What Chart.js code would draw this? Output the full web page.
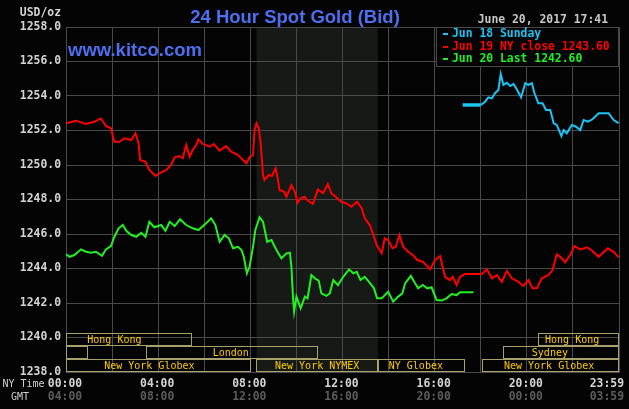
<!DOCTYPE html>
<html><head><meta charset="utf-8">
<script src="https://cdn.jsdelivr.net/npm/chart.js@4.4.1/dist/chart.umd.min.js"></script>
<style>html,body{margin:0;padding:0;background:#040404;overflow:hidden}canvas{display:block}</style>
</head><body>
<canvas id="c" width="629" height="409"></canvas>
<script>
// ---- data (time in minutes after 00:00 New York time) ----
const redTimes=[0,26,52,74,91,104,117,126,139,152,170,181,189,193,207,217,233,243,261,274,283,295,304,313,322,330,339,345,356,374,385,400,417,430,448,461,470,478,487,491,496,502,507,513,517,528,536,546,552,556,568,574,587,596,603,611,621,630,643,656,669,682,691,700,717,730,743,758,770,778,791,802,809,822,830,839,850,859,868,878,891,903,915,930,948,961,974,987,1000,1007,1017,1026,1039,1083,1096,1109,1122,1135,1148,1161,1178,1191,1204,1215,1226,1239,1256,1267,1278,1287,1300,1313,1324,1339,1357,1370,1387,1411,1426,1439];
const redValues=[1252.42,1252.57,1252.38,1252.51,1252.70,1252.26,1252.13,1251.35,1251.35,1251.55,1251.45,1251.84,1251.26,1250.29,1250.19,1249.71,1249.36,1249.52,1249.71,1250.00,1250.45,1250.52,1250.39,1251.16,1250.48,1250.87,1251.16,1251.49,1251.22,1251.06,1251.22,1250.83,1251.10,1250.77,1250.58,1250.29,1250.10,1250.45,1250.58,1252.03,1252.42,1252.13,1251.26,1249.42,1249.13,1249.42,1249.36,1249.81,1249.13,1248.55,1248.45,1248.16,1248.84,1248.45,1247.81,1248.07,1248.16,1247.93,1247.74,1248.59,1248.36,1248.90,1248.36,1248.20,1247.87,1247.78,1247.58,1247.87,1247.49,1246.91,1246.52,1245.84,1245.36,1244.88,1245.75,1245.65,1245.17,1245.26,1245.94,1245.26,1244.97,1244.78,1244.49,1244.39,1243.95,1244.49,1244.72,1243.52,1243.33,1243.52,1243.04,1243.52,1243.68,1243.68,1243.95,1243.43,1243.62,1243.23,1243.86,1243.43,1243.23,1242.99,1243.33,1242.85,1242.85,1243.43,1243.62,1243.91,1244.82,1244.68,1244.36,1244.78,1245.30,1245.11,1245.23,1245.03,1244.68,1245.17,1244.97,1244.65];

const greenTimes=[0,9,22,39,52,65,78,94,104,117,126,137,148,157,170,183,196,207,217,230,248,259,270,283,297,313,330,345,353,365,378,389,400,413,424,435,448,457,463,471,478,487,493,504,513,524,535,548,561,574,583,587,591,594,600,611,622,629,639,648,658,665,678,687,696,708,722,737,748,757,767,778,789,802,810,822,839,852,865,876,883,898,909,917,929,941,952,965,978,991,1004,1017,1026,1061];
const greenValues=[1244.84,1244.68,1244.78,1245.11,1244.97,1244.92,1244.97,1244.74,1245.11,1245.30,1245.84,1246.33,1246.52,1246.19,1245.94,1245.84,1246.07,1245.84,1246.71,1246.39,1246.52,1246.19,1246.71,1246.46,1246.85,1246.52,1246.33,1246.23,1246.39,1246.62,1246.91,1246.52,1245.55,1245.94,1245.75,1245.17,1245.26,1245.07,1244.68,1243.72,1244.10,1245.26,1246.23,1246.97,1246.71,1245.55,1245.65,1245.07,1244.59,1244.88,1244.92,1244.10,1242.37,1241.50,1242.37,1241.69,1242.37,1242.27,1243.62,1243.43,1243.30,1242.56,1242.41,1242.56,1243.33,1243.04,1243.52,1243.95,1243.72,1243.81,1243.33,1243.52,1243.23,1242.85,1242.27,1242.27,1242.65,1242.08,1242.37,1242.56,1243.14,1243.57,1243.14,1242.85,1243.04,1242.85,1242.91,1242.17,1242.14,1242.27,1242.52,1242.46,1242.62,1242.62];

const blueTimes=[1033,1080,1091,1100,1109,1117,1126,1132,1139,1148,1157,1165,1174,1185,1196,1204,1213,1220,1230,1241,1250,1261,1270,1278,1290,1296,1304,1317,1328,1339,1348,1359,1371,1387,1413,1426,1439];
const blueValues=[1253.48,1253.48,1253.67,1253.92,1253.86,1254.16,1254.35,1255.28,1254.64,1254.77,1254.58,1254.70,1254.39,1253.92,1254.74,1254.64,1254.74,1254.16,1253.58,1253.58,1253.19,1253.19,1252.42,1252.32,1251.68,1252.03,1251.84,1252.32,1252.22,1252.03,1252.61,1252.51,1252.65,1253.00,1253.00,1252.61,1252.42];

const seriesNames=['Jun 18 Sunday','Jun 19 NY close 1243.60','Jun 20 Last 1242.60'];

// trading sessions: row, name, start, end, label anchor (minutes)
const sessionRows  =[0,0,1,1,1,2,2,2,2];
const sessionNames =['Hong Kong','Hong Kong','','London','Sydney','New York Globex','New York NYMEX','NY Globex','New York Globex'];
const sessionStarts=[0,1230,0,209,1138,0,496,812,1082];
const sessionEnds  =[327,1440,56,656,1440,481,812,1038,1440];
const sessionLabelAt=[126,1318,28,429,1260,217,654,911,1258];
const nymexStart=496, nymexEnd=812;

const tickMinutes=[0,240,480,720,960,1200,1439];
const nyTickLabels=['00:00','04:00','08:00','12:00','16:00','20:00','23:59'];
const gmtTickLabels=['04:00','08:00','12:00','16:00','20:00','00:00','03:59'];

const chartTitle='24 Hour Spot Gold (Bid)';
const siteText='www.kitco.com';
const dateText='June 20, 2017 17:41';
const unitText='USD/oz';

// ---- drawing ----
const RED='#ff0000', GREEN='#22f022', BLUE='#1cc4f4';
const GRID='#4a4a4a';
const MONO='"DejaVu Sans Mono", monospace';
function pts(t,v){return t.map((x,i)=>({x:x,y:v[i]}));}

const deco={
  id:'deco',
  beforeDraw(chart){
    const {ctx,chartArea:a,scales:{x}}=chart;
    ctx.save();
    ctx.fillStyle='#040404';
    ctx.fillRect(0,0,chart.width,chart.height);
    ctx.fillStyle='#161916';
    const x0=x.getPixelForValue(nymexStart), x1=x.getPixelForValue(nymexEnd);
    ctx.fillRect(x0,a.top,x1-x0,a.bottom-a.top);
    ctx.restore();
  },
  afterDatasetsDraw(chart){
    const {ctx,chartArea:a,scales:{x}}=chart;
    const b=Math.round(a.bottom);
    const rowTop=[b-39,b-26,b-13], rowBot=[b-26,b-13,b];
    ctx.save();
    ctx.lineWidth=1;
    ctx.strokeStyle='#a8a26a';
    ctx.fillStyle='#ffcc00';
    ctx.font='10px '+MONO;
    ctx.textAlign='center';
    ctx.textBaseline='middle';
    sessionNames.forEach((n,i)=>{
      const r=sessionRows[i];
      const x0=Math.round(x.getPixelForValue(sessionStarts[i]));
      const x1=Math.round(x.getPixelForValue(sessionEnds[i]));
      ctx.strokeRect(x0+0.5,rowTop[r]+0.5,x1-x0-1,rowBot[r]-rowTop[r]-1);
      if(n) ctx.fillText(n,x.getPixelForValue(sessionLabelAt[i]),(rowTop[r]+rowBot[r])/2+0.5);
    });
    ctx.restore();
  },
  afterDraw(chart){
    const {ctx,chartArea:a,scales:{x}}=chart;
    ctx.save();
    // legend box
    const lx=436, ly=Math.round(a.top), lr=Math.round(a.right), lb=67;
    ctx.fillStyle='#040404';
    ctx.fillRect(lx,ly,lr-lx,lb-ly);
    ctx.strokeStyle=GRID; ctx.lineWidth=1;
    ctx.strokeRect(lx+0.5,ly+0.5,lr-lx-1,lb-ly-1);
    const cols=[BLUE,RED,GREEN], ys=[34,46.5,59];
    ctx.font='bold 11.4px '+MONO;
    ctx.textBaseline='middle'; ctx.textAlign='left';
    seriesNames.forEach((s,i)=>{
      ctx.fillStyle=cols[i];
      ctx.fillRect(443,Math.round(ys[i])-1,5,2);
      ctx.fillText(s,452,ys[i]+0.5);
    });
    // title & site
    ctx.fillStyle='#4d6ff0';
    ctx.font='bold 18.5px "Liberation Sans", Arial, sans-serif';
    ctx.textAlign='center'; ctx.textBaseline='alphabetic';
    ctx.fillText(chartTitle,295,23);
    ctx.textAlign='left';
    ctx.fillText(siteText,68,55.5);
    // date
    ctx.fillStyle='#c8c8c8';
    ctx.font='bold 11.4px '+MONO;
    ctx.textAlign='right'; ctx.textBaseline='middle';
    ctx.fillText(dateText,608,20.5);
    ctx.fillStyle='#d4d4d4';
    ctx.fillText(unitText,61,13);
    // x labels
    tickMinutes.forEach((m,i)=>{
      let px=x.getPixelForValue(m)-1;
      const last=i===tickMinutes.length-1;
      ctx.textAlign=last?'right':'center';
      if(last) px=chart.width-5;
      ctx.fillStyle='#d4d4d4';
      ctx.fillText(nyTickLabels[i],px,384);
      ctx.fillStyle='#5c5c5c';
      ctx.fillText(gmtTickLabels[i],px,397.5);
    });
    ctx.font='10px '+MONO;
    ctx.fillStyle='#d0d0d0';
    ctx.textAlign='left';
    ctx.fillText('NY Time',2.5,384);
    ctx.fillText('GMT',11,397);
    ctx.restore();
  }
};

new Chart(document.getElementById('c'),{
  type:'line',
  data:{datasets:[
    {label:seriesNames[1],data:pts(redTimes,redValues),borderColor:RED,borderWidth:2,pointRadius:0,tension:0},
    {label:seriesNames[2],data:pts(greenTimes,greenValues),borderColor:GREEN,borderWidth:2,pointRadius:0,tension:0},
    {label:seriesNames[0],data:pts(blueTimes,blueValues),borderColor:BLUE,borderWidth:2,pointRadius:0,tension:0,
      segment:{borderWidth:c=>c.p0DataIndex===0?3.5:2}}
  ]},
  options:{
    responsive:false,animation:false,
    layout:{padding:{left:0,right:10,top:27,bottom:0}},
    plugins:{legend:{display:false},tooltip:{enabled:false},title:{display:false}},
    scales:{
      x:{type:'linear',min:0,max:1440,
        ticks:{display:false,stepSize:120},
        grid:{color:GRID,drawTicks:false,lineWidth:1},
        border:{color:GRID},
        afterFit:s=>{s.height=37;}},
      y:{min:1238,max:1258,
        ticks:{stepSize:2,callback:v=>v.toFixed(1),color:'#d4d4d4',padding:5,
          font:{family:MONO,size:11.4,weight:'bold'}},
        grid:{color:GRID,drawTicks:false,lineWidth:1},
        border:{color:GRID},
        afterFit:s=>{s.width=66;}}
    }
  },
  plugins:[deco]
});
</script>
</body></html>
